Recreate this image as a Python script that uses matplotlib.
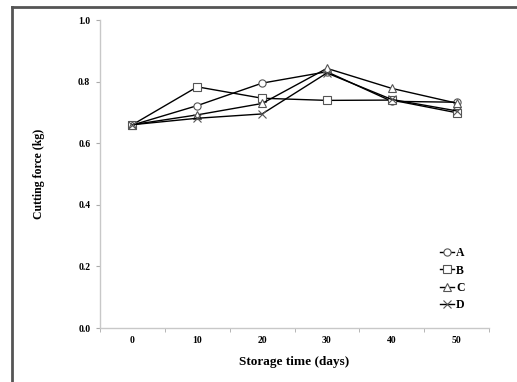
import matplotlib
matplotlib.use("Agg")
import matplotlib.pyplot as plt
from matplotlib.lines import Line2D

days = ["0", "10", "20", "30", "40", "50"]
series_names = ["A", "B", "C", "D"]
A = [0.659, 0.722, 0.795, 0.832, 0.736, 0.733]
B = [0.660, 0.783, 0.746, 0.739, 0.740, 0.699]
C = [0.660, 0.692, 0.729, 0.843, 0.778, 0.730]
D = [0.660, 0.681, 0.695, 0.828, 0.742, 0.705]
values = [A, B, C, D]
markers = ["o", "s", "^", "x"]

plt.rcParams['font.family'] = ['Liberation Serif', 'DejaVu Serif']

fig = plt.figure(figsize=(5.17, 3.82), dpi=100)
ax = fig.add_axes([100/517, 1-328/382, (489-100)/517, (328-20)/382])

x = list(range(len(days)))
for name, vals, m in zip(series_names, values, markers):
    ax.plot(x, vals, color='black', lw=1.0, marker=m, markersize=5.2,
            markerfacecolor='white' if m != 'x' else 'none', markeredgecolor='#555555',
            markeredgewidth=0.8, label=name)

ax.set_xlim(-0.5, len(days) - 0.5)
ax.set_ylim(0, 1.0)
ax.set_yticks([0.0, 0.2, 0.4, 0.6, 0.8, 1.0])
ax.set_yticklabels([f"{v:.1f}" for v in [0.0, 0.2, 0.4, 0.6, 0.8, 1.0]], fontsize=7, fontweight='bold')
ax.set_xticks(x)
ax.set_xticklabels(days, fontsize=7, fontweight='bold')
ax.tick_params(axis='x', which='major', length=0, pad=6)
ax.set_xticks([i - 0.5 for i in range(len(days) + 1)], minor=True)
ax.tick_params(axis='x', which='minor', length=3, color='#aaaaaa', direction='out')
ax.tick_params(axis='y', length=3, color='#aaaaaa', direction='out', pad=4)

for s in ['top', 'right']:
    ax.spines[s].set_visible(False)
for s in ['left', 'bottom']:
    ax.spines[s].set_color('#c8c8c8')
    ax.spines[s].set_linewidth(1.0)

ax.set_xlabel("Storage time (days)", fontsize=9.5, fontweight='bold', labelpad=8)
ax.set_ylabel("Cutting force (kg)", fontsize=8.5, fontweight='bold', labelpad=24)

leg = ax.legend(loc='lower right', bbox_to_anchor=(0.965, 0.02), frameon=False,
                prop={'weight': 'bold', 'size': 8.5}, handlelength=1.2, handletextpad=0.15,
                labelspacing=0.45)

fig.add_artist(Line2D([12/517, 12/517], [1-7/382, 0], transform=fig.transFigure,
                      color='#555555', lw=2))
fig.add_artist(Line2D([12/517, 1], [1-7/382, 1-7/382], transform=fig.transFigure,
                      color='#555555', lw=2))

fig.savefig("out.png", dpi=100)
